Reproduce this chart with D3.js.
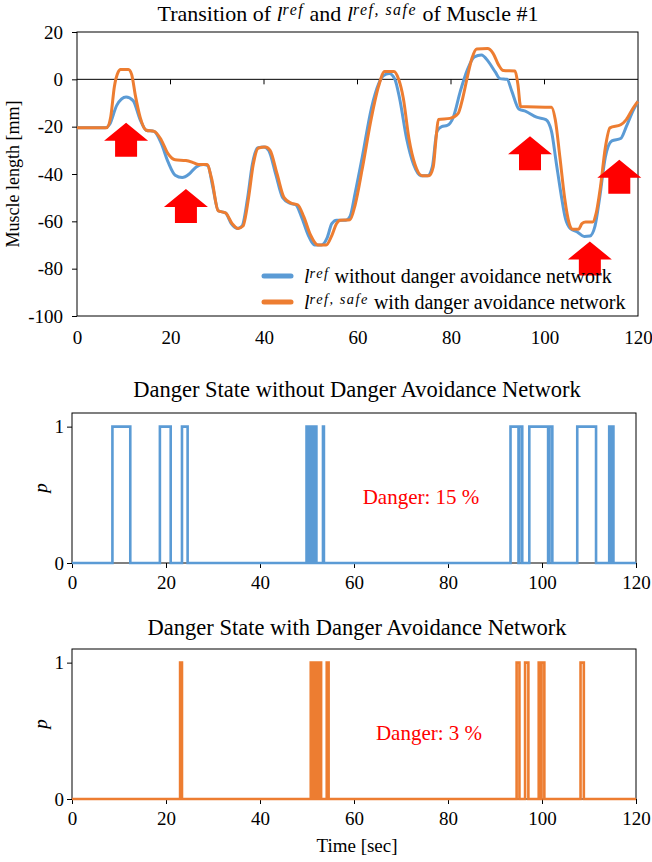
<!DOCTYPE html>
<html lang="en">
<head>
    <meta charset="UTF-8">
    <title>Muscle length and danger state</title>
    <script src="https://d3js.org/d3.v7.min.js"></script>
    <style>
        body { margin: 0; background: #fff; }
        svg, svg text, svg g { font-family: "Liberation Serif", "Times New Roman", serif !important; }
        .math { font-style: italic; }
    </style>
</head>
<body>
<script>
    // muscle length curves: [time sec, length mm]
    const lenRef = [
        [0, -20.5], [6, -20.5], [7, -19], [8.5, -11], [10.5, -7.5], [12, -9], [13.5, -17], [14.8, -21.5],
        [16.5, -22], [18, -27], [19.5, -35], [21, -40.5], [22.5, -41.5], [24, -40], [25.5, -37], [27, -36],
        [28, -36.5], [29, -45], [30.2, -55.5], [31.8, -56.5], [33, -61], [34.3, -63], [35.3, -62], [36.5, -50],
        [37.5, -36], [38.6, -29], [40, -28.6], [41, -30], [42.5, -40], [44, -50], [45.5, -52.3], [46.8, -53],
        [48, -58], [49.5, -66], [50.8, -70], [52.3, -70], [53.5, -67], [54.5, -61], [55.5, -59.5], [57.5, -59.5],
        [58.4, -57.9], [59.5, -48], [61, -33], [63, -12], [64.5, -2], [65.5, 1.5], [66.8, 2.5], [68, 0],
        [69, -8], [70.5, -25], [72, -36], [73.5, -40.7], [75, -40.7], [76, -37], [77, -22], [78, -20],
        [79.2, -19.5], [80.5, -16], [82, -5], [83.5, 4], [85, 9.5], [86.5, 10.3], [88, 7.5], [89.5, 3],
        [90.5, 0.3], [92, 0], [93, -5], [94.5, -12.5], [96, -13.5], [98.3, -16], [100.3, -17], [101.5, -22],
        [102.5, -35], [103.5, -48], [104.5, -59], [105.5, -63], [107, -64.5], [108.5, -66.4], [109.7, -66.2],
        [110.8, -62], [111.8, -50], [113, -33], [114.4, -26], [116.3, -25], [117.5, -20], [119, -13], [120, -9.3]
    ];
    const lenSafe = [
        [0, -20.5], [6.3, -20.5], [7.2, -16], [8, -3], [8.8, 3], [9.3, 4.2], [11, 4.2], [11.7, 2], [12.5, -7],
        [13.5, -16], [14.8, -21.5], [16.5, -22], [18, -25.5], [19.5, -31.5], [21, -34], [23.3, -34.3],
        [25, -35.3], [26, -36], [27.8, -36], [28.8, -42], [30.2, -55.5], [31.8, -56.5], [33.2, -61], [34.5, -63],
        [35.5, -62], [36.7, -50], [37.7, -36], [38.8, -29], [40.3, -28.6], [41.3, -30], [42.8, -40], [44.3, -50],
        [45.8, -52.3], [47.2, -53], [48.5, -58], [50, -66], [51.5, -70], [53.3, -70], [54.5, -66], [55.5, -61],
        [56.3, -59.5], [58.4, -59.3], [59.5, -53], [61, -38], [63, -16], [64.5, -3], [65.8, 3.3], [67.8, 3.3],
        [68.8, 0], [69.8, -8], [71, -25], [72.3, -36], [73.8, -40.7], [75.3, -40.7], [76.2, -37], [76.8, -25],
        [77.3, -17], [79.8, -16.5], [81.5, -14.5], [82.5, -8], [83.5, 1], [84.5, 9], [85.5, 12.8], [87.8, 13],
        [89, 11], [90.2, 6], [91.2, 3.7], [93.7, 3.5], [94.3, -2], [94.9, -11.5], [101.5, -11.8], [102.3, -17],
        [103.3, -33], [104.3, -50], [105.3, -61], [106, -63.3], [107.3, -63.3], [108, -61], [108.8, -60.3],
        [110.3, -60.3], [111, -57], [112, -45], [113, -29], [114, -20.5], [116.3, -19.2], [117.5, -17],
        [119, -12], [120, -9.3]
    ];

    // danger state p = 1 intervals [start, end] in sec
    const dangerRef = [
        [8.6, 12.4], [18.7, 21.0], [23.4, 24.6], [49.9, 50.1], [50.6, 51.0], [51.15, 51.5], [51.65, 52.0],
        [53.4, 53.6], [93.3, 95.0], [95.2, 95.8], [97.3, 101.3], [101.6, 102.2], [107.5, 111.5],
        [114.3, 114.6], [114.8, 115.2]
    ];
    const dangerSafe = [
        [23.0, 23.4], [50.8, 51.2], [51.35, 51.8], [51.95, 52.4], [52.55, 53.0], [54.2, 54.6],
        [94.6, 95.2], [96.4, 97.1], [99.3, 99.8], [99.9, 100.5], [108.2, 108.9]
    ];
    const dangerRatio = [15, 3];

    // red arrows under the spots where the network steps in: [time, length at tip]
    const arrows = [[10.5, -18.3], [23.3, -46.3], [96.9, -24.1], [116.0, -34.0], [109.7, -68.5]];

    const timeTicks = [0, 20, 40, 60, 80, 100, 120];
    const lenTicks = [-100, -80, -60, -40, -20, 0, 20];
    const pTicks = [0, 1];

    const blue = "#5B9BD5", orange = "#ED7D31";

    const svg = d3.select("body").append("svg")
        .attr("width", 652).attr("height", 862);
    svg.append("rect").attr("width", 652).attr("height", 862).attr("fill", "#fff");

    // writes an italic "l" with a superscript, returns a tspan for the rest
    function mathL(text, sup) {
        text.append("tspan").attr("class", "math").text("l");
        text.append("tspan").attr("class", "math").attr("font-size", "0.72em")
            .attr("dy", "-0.36em").attr("letter-spacing", 1.5).text(sup);
        return text.append("tspan").attr("dy", "0.26em");
    }

    function styleTicks(g) {
        g.select(".domain").remove();
        g.selectAll("text").attr("font-size", 19).attr("fill", "#000");
        g.selectAll("line").attr("stroke", "#000");
    }

    // ---------- top chart ----------
    const x1 = d3.scaleLinear().domain([0, 120]).range([77, 638]);
    const y1 = d3.scaleLinear().domain([-100, 20]).range([316, 32]);

    const t = svg.append("text").attr("x", 348).attr("y", 21)
        .attr("text-anchor", "middle").attr("font-size", 22);
    t.append("tspan").text("Transition of ");
    mathL(t, "ref").text(" and ");
    mathL(t, "ref, safe").text(" of Muscle #1");

    svg.append("rect").attr("x", 77).attr("y", 32).attr("width", 561).attr("height", 284)
        .attr("fill", "none").attr("stroke", "#000").attr("stroke-width", 1);

    svg.append("g").attr("transform", "translate(77,0)")
        .call(d3.axisLeft(y1).tickValues(lenTicks).tickSize(5).tickPadding(9).tickFormat(d => String(d)))
        .call(styleTicks);

    svg.append("g").attr("transform", "translate(0,316)")
        .call(d3.axisBottom(x1).tickValues(timeTicks).tickSize(0).tickPadding(15))
        .call(styleTicks);

    // horizontal axis at zero with tick marks
    svg.append("line").attr("x1", x1(0)).attr("x2", x1(120)).attr("y1", y1(0)).attr("y2", y1(0))
        .attr("stroke", "#000");
    svg.append("g").selectAll("line").data(timeTicks.slice(1, -1)).join("line")
        .attr("x1", d => x1(d)).attr("x2", d => x1(d))
        .attr("y1", y1(0)).attr("y2", y1(0) + 5).attr("stroke", "#000");

    svg.append("text").attr("transform", "translate(19,174) rotate(-90)")
        .attr("text-anchor", "middle").attr("font-size", 18).text("Muscle length [mm]");

    const lenLine = d3.line().x(d => x1(d[0])).y(d => y1(d[1])).curve(d3.curveMonotoneX);
    svg.append("path").datum(lenRef).attr("d", lenLine)
        .attr("fill", "none").attr("stroke", blue).attr("stroke-width", 3);
    svg.append("path").datum(lenSafe).attr("d", lenLine)
        .attr("fill", "none").attr("stroke", orange).attr("stroke-width", 3);

    // arrows
    svg.append("g").selectAll("path").data(arrows).join("path")
        .attr("fill", "#FF0000")
        .attr("d", d => {
            const cx = x1(d[0]), ty = y1(d[1]);
            return `M${cx},${ty} L${cx + 22},${ty + 18} L${cx + 11},${ty + 18} L${cx + 11},${ty + 34}
                    L${cx - 11},${ty + 34} L${cx - 11},${ty + 18} L${cx - 22},${ty + 18} Z`;
        });

    // legend
    const legend = [["ref", " without danger avoidance network", blue], ["ref, safe", " with danger avoidance network", orange]];
    legend.forEach((d, i) => {
        const ly = 276 + i * 26;
        svg.append("line").attr("x1", 264).attr("x2", 291).attr("y1", ly).attr("y2", ly)
            .attr("stroke", d[2]).attr("stroke-width", 5).attr("stroke-linecap", "round");
        const lt = svg.append("text").attr("x", 304).attr("y", ly + 7).attr("font-size", 20);
        mathL(lt, d[0]).text(d[1]);
    });

    // ---------- danger panels ----------
    function stepPoints(intervals) {
        const pts = [[0, 0]];
        intervals.forEach(iv => { pts.push([iv[0], 0], [iv[0], 1], [iv[1], 1], [iv[1], 0]); });
        pts.push([120, 0]);
        return pts;
    }

    const panels = [
        { title: "Danger State without Danger Avoidance Network", data: dangerRef, color: blue,
          top: 413, bottom: 563, titleY: 397, ratio: dangerRatio[0], labelX: 421 },
        { title: "Danger State with Danger Avoidance Network", data: dangerSafe, color: orange,
          top: 649, bottom: 799, titleY: 635, ratio: dangerRatio[1], labelX: 429 }
    ];

    const x2 = d3.scaleLinear().domain([0, 120]).range([72, 636]);

    panels.forEach(p => {
        const y2 = d3.scaleLinear().domain([0, 1.1]).range([p.bottom, p.top]);

        svg.append("text").attr("x", 357).attr("y", p.titleY).attr("text-anchor", "middle")
            .attr("font-size", 22.5).text(p.title);

        svg.append("rect").attr("x", 72).attr("y", p.top).attr("width", 564).attr("height", p.bottom - p.top)
            .attr("fill", "none").attr("stroke", "#000");

        svg.append("g").attr("transform", `translate(72,0)`)
            .call(d3.axisLeft(y2).tickValues(pTicks).tickSize(5).tickPadding(3).tickFormat(d => String(d)))
            .call(styleTicks);

        svg.append("g").attr("transform", `translate(0,${p.bottom})`)
            .call(d3.axisBottom(x2).tickValues(timeTicks).tickSize(5).tickPadding(8))
            .call(styleTicks);

        svg.append("text").attr("class", "math").attr("transform", `translate(47,${(p.top + p.bottom) / 2}) rotate(-90)`)
            .attr("text-anchor", "middle").attr("font-size", 19).text("p");

        svg.append("path").datum(stepPoints(p.data))
            .attr("d", d3.line().x(d => x2(d[0])).y(d => y2(d[1])))
            .attr("fill", "none").attr("stroke", p.color).attr("stroke-width", 2.6);

        svg.append("text").attr("x", p.labelX).attr("y", (p.top + p.bottom) / 2 + 16).attr("text-anchor", "middle")
            .attr("font-size", 21).style("fill", "#FF0000").text(`Danger: ${p.ratio} %`);
    });

    svg.append("text").attr("x", 357).attr("y", 852).attr("text-anchor", "middle")
        .attr("font-size", 19).text("Time [sec]");
</script>
</body>
</html>
